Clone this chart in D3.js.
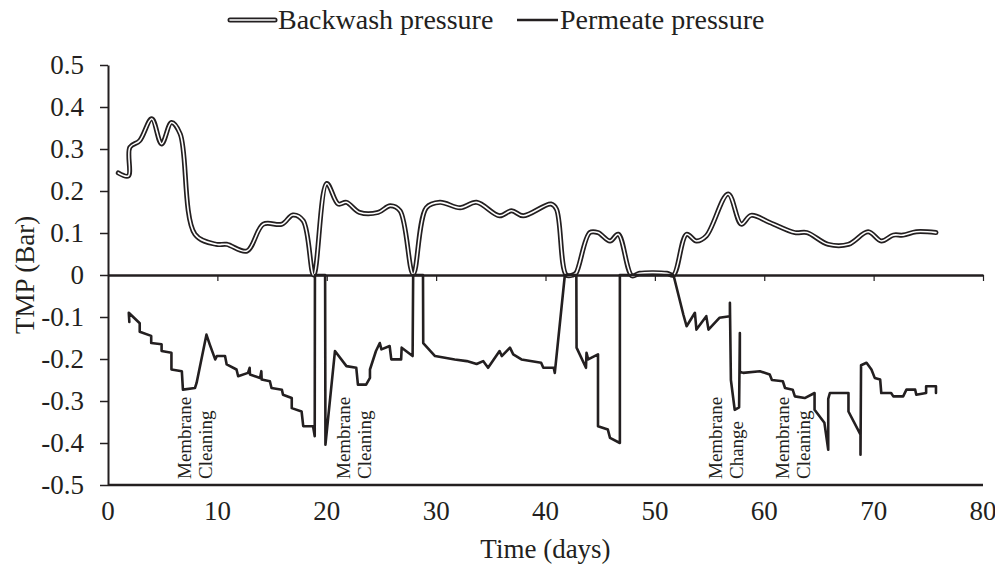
<!DOCTYPE html>
<html><head><meta charset="utf-8">
<script src="https://cdn.jsdelivr.net/npm/d3@7"></script>
<style>body{margin:0;background:#fff}svg{display:block}text{font-family:"Liberation Serif","Times New Roman",serif;fill:#231f20}</style>
</head><body>
<script>
const xTicks = [0,10,20,30,40,50,60,70,80];
const yTicks = [0.5,0.4,0.3,0.2,0.1,0,-0.1,-0.2,-0.3,-0.4,-0.5];
const seriesNames = ["Backwash pressure","Permeate pressure"];

const backwashDays = [0.94,1.86,2.0,2.9,4.0,4.9,5.8,6.6,7.95,9.9,10.85,12.7,14.2,15.9,16.9,17.85,18.8,20.0,21.05,21.8,23.0,24.7,25.8,26.7,27.9,29.1,30.35,32.2,33.7,35.8,36.9,37.96,40.5,41.0,41.9,42.5,42.8,44.05,44.8,45.9,46.65,47.9,48.6,51.1,51.7,52.9,53.8,54.7,56.7,57.9,58.8,60.5,62.8,63.9,65.85,67.7,69.5,70.7,71.8,72.7,73.9,75.7];
const backwashValues = [0.243,0.236,0.304,0.32,0.372,0.312,0.363,0.336,0.097,0.073,0.073,0.057,0.121,0.121,0.143,0.129,0.0,0.218,0.169,0.173,0.149,0.149,0.165,0.153,0.002,0.16,0.173,0.16,0.173,0.141,0.153,0.141,0.169,0.157,0.0,0.0,0.005,0.101,0.101,0.081,0.097,-0.002,0.004,0.004,0.0,0.097,0.081,0.093,0.193,0.121,0.142,0.125,0.101,0.101,0.073,0.073,0.103,0.081,0.095,0.095,0.103,0.101];

const permeateDays = [1.95,1.9,2.9,2.9,3.95,3.95,4.9,4.9,5.8,5.8,6.75,6.85,7.95,8.1,9.0,9.3,9.8,9.95,10.7,10.85,11.75,11.9,12.8,12.95,12.98,13.9,14.02,14.05,14.8,14.95,15.9,16.0,16.8,16.8,17.7,17.85,18.75,18.9,18.92,19.85,19.88,20.75,21.8,22.7,22.85,23.6,23.95,23.95,24.5,24.85,25.0,25.75,25.9,26.8,26.85,27.85,27.9,28.8,28.82,29.9,31.7,32.8,33.7,34.3,34.75,35.8,36.0,36.75,37.05,37.8,39.6,39.8,40.75,40.85,41.77,42.82,42.84,43.7,43.75,43.9,44.8,44.8,45.7,45.9,46.8,46.8,51.7,52.6,52.9,53.66,53.8,54.7,54.9,55.9,56.86,56.86,56.95,57.3,57.7,57.77,57.77,58.07,59.6,60.5,60.7,61.7,61.9,62.6,62.8,63.7,64.6,64.6,65.5,65.85,65.85,66.0,67.7,67.7,68.8,68.8,68.85,69.35,69.8,70.1,70.6,70.7,71.6,71.8,72.7,73.0,73.8,73.9,74.8,74.8,75.7,75.7];
const permeateValues = [-0.112,-0.09,-0.115,-0.135,-0.145,-0.162,-0.165,-0.181,-0.185,-0.225,-0.229,-0.273,-0.269,-0.257,-0.142,-0.165,-0.201,-0.193,-0.193,-0.213,-0.225,-0.241,-0.233,-0.221,-0.237,-0.245,-0.229,-0.249,-0.253,-0.269,-0.273,-0.285,-0.293,-0.317,-0.325,-0.36,-0.36,-0.384,0,0,-0.404,-0.181,-0.217,-0.221,-0.261,-0.261,-0.245,-0.225,-0.181,-0.162,-0.177,-0.169,-0.201,-0.201,-0.173,-0.193,0,0,-0.162,-0.193,-0.201,-0.205,-0.212,-0.205,-0.221,-0.181,-0.193,-0.173,-0.189,-0.201,-0.209,-0.221,-0.221,-0.233,0,0,-0.173,-0.221,-0.185,-0.201,-0.189,-0.36,-0.368,-0.388,-0.4,0,0,-0.094,-0.122,-0.09,-0.13,-0.098,-0.13,-0.102,-0.098,-0.066,-0.25,-0.321,-0.315,-0.138,-0.23,-0.233,-0.229,-0.237,-0.25,-0.253,-0.269,-0.273,-0.289,-0.293,-0.281,-0.321,-0.352,-0.416,-0.295,-0.281,-0.281,-0.325,-0.38,-0.428,-0.215,-0.209,-0.225,-0.245,-0.249,-0.281,-0.281,-0.289,-0.289,-0.273,-0.273,-0.285,-0.281,-0.265,-0.265,-0.281];

const annotations = [
  {day: 7.0, lines: ["Membrane","Cleaning"]},
  {day: 21.5, lines: ["Membrane","Cleaning"]},
  {day: 55.5, lines: ["Membrane","Change"]},
  {day: 61.7, lines: ["Membrane","Cleaning"]}
];

const W = 995, H = 568;
const svg = d3.select("body").append("svg").attr("width", W).attr("height", H);
const x = d3.scaleLinear().domain([0,80]).range([108,983]);
const y = d3.scaleLinear().domain([-0.5,0.5]).range([485,65]);
const ink = "#231f20";
const FS = 27;

// y axis
const yAxis = svg.append("g").attr("transform", `translate(${x(0)},0)`)
  .call(d3.axisLeft(y).tickValues(yTicks).tickSize(8).tickSizeOuter(0)
    .tickFormat(d => d === 0 ? "0" : d3.format(".1f")(d).replace("−","-")));
yAxis.select(".domain").attr("stroke", ink).attr("stroke-width", 2);
yAxis.selectAll(".tick line").attr("stroke", ink).attr("stroke-width", 1.5);
yAxis.selectAll(".tick text").attr("font-size", FS).attr("x", -24).attr("fill", ink)
  .style("font-family", '"Liberation Serif", serif');

// x axis on zero line (ticks down)
const xAxis = svg.append("g").attr("transform", `translate(0,${y(0)})`)
  .call(d3.axisBottom(x).tickValues(xTicks).tickSize(6).tickSizeOuter(0).tickFormat(""));
xAxis.select(".domain").attr("stroke", ink).attr("stroke-width", 2.5);
xAxis.selectAll(".tick line").attr("stroke", ink).attr("stroke-width", 1.2);
xAxis.selectAll(".tick").filter(d => d === 0).remove();

// bottom line at -0.5
svg.append("line").attr("x1", x(0)).attr("x2", x(80)).attr("y1", y(-0.5)).attr("y2", y(-0.5))
  .attr("stroke", ink).attr("stroke-width", 2.5);

// x labels
svg.append("g").selectAll("text").data(xTicks).join("text")
  .attr("x", d => x(d)).attr("y", 520).attr("text-anchor", "middle")
  .attr("font-size", FS).text(d => d);

// axis titles
svg.append("text").attr("x", x(40)).attr("y", 558).attr("text-anchor", "middle")
  .attr("font-size", FS).text("Time (days)");
svg.append("text").attr("transform", `translate(34,${y(0)}) rotate(-90)`).attr("text-anchor", "middle")
  .attr("font-size", FS).text("TMP (Bar)");

// backwash: double line
const bwData = backwashDays.map((d,i) => [d, backwashValues[i]]);
const bwLine = d3.line().x(d => x(d[0])).y(d => y(d[1])).curve(d3.curveCatmullRom.alpha(0.5));
svg.append("path").attr("d", bwLine(bwData)).attr("fill","none").attr("stroke", ink)
  .attr("stroke-width", 5).attr("stroke-linejoin","round").attr("stroke-linecap","round");
svg.append("path").attr("d", bwLine(bwData)).attr("fill","none").attr("stroke", "#fff")
  .attr("stroke-width", 1.6).attr("stroke-linejoin","round").attr("stroke-linecap","round");

// permeate
const pmData = permeateDays.map((d,i) => [d, permeateValues[i]]);
const pmLine = d3.line().x(d => x(d[0])).y(d => y(d[1]));
svg.append("path").attr("d", pmLine(pmData)).attr("fill","none").attr("stroke", ink)
  .attr("stroke-width", 2.6).attr("stroke-linejoin","round").attr("stroke-linecap","round");

// annotations
annotations.forEach(a => {
  a.lines.forEach((t,i) => {
    svg.append("text")
      .attr("transform", `translate(${x(a.day) + i*21},479) rotate(-90)`)
      .attr("dominant-baseline","central").attr("font-size", 19).text(t);
  });
});

// legend
const lg = svg.append("g");
lg.append("line").attr("x1",230).attr("x2",275).attr("y1",20).attr("y2",20)
  .attr("stroke", ink).attr("stroke-width",5).attr("stroke-linecap","round");
lg.append("line").attr("x1",230).attr("x2",275).attr("y1",20).attr("y2",20)
  .attr("stroke", "#fff").attr("stroke-width",1.6).attr("stroke-linecap","round");
lg.append("text").attr("x",278).attr("y",29).attr("font-size",28).text(seriesNames[0]);
lg.append("line").attr("x1",517).attr("x2",558).attr("y1",20).attr("y2",20)
  .attr("stroke", ink).attr("stroke-width",2.6);
lg.append("text").attr("x",560).attr("y",29).attr("font-size",28).text(seriesNames[1]);
</script>
</body></html>
